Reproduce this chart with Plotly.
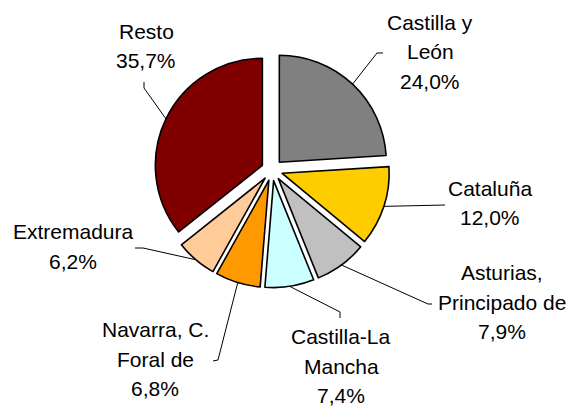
import math
import plotly.graph_objects as go

# ---- data ----
regions = ["Castilla y León", "Cataluña", "Asturias, Principado de",
           "Castilla-La Mancha", "Navarra, C. Foral de", "Extremadura", "Resto"]
label_lines = [["Castilla y", "León"], ["Cataluña"], ["Asturias,", "Principado de"],
               ["Castilla-La", "Mancha"], ["Navarra, C.", "Foral de"], ["Extremadura"], ["Resto"]]
shares = [24.0, 12.0, 7.9, 7.4, 6.8, 6.2, 35.7]
colors = ["#808080", "#FFCC00", "#C0C0C0", "#CCFFFF", "#FF9900", "#FFCC99", "#800000"]

# ---- layout (pixels) ----
W, H = 581, 407
CX, CY, R, PULL = 272, 170, 107, 0.1
FONT = dict(family="Liberation Sans, Arial, sans-serif", size=21, color="#000000")
LINE_GAP = 29.5
TEXT_DY = 0.0
# label centre x and first-line centre y
label_pos = [(430, 22.5), (490, 188), (502, 272.5), (341, 336.5),
             (155, 329.5), (73, 231.5), (146, 31)]
# leader line bend points from slice edge toward the label
leader_pts = [[(377, 53), (383, 53)], [(445, 205)], [(428, 304), (432, 304)],
              [(340, 312), (340, 318)], [(218, 360), (213, 361)],
              [(143, 248), (135, 248)], [(144, 88), (144, 82)]]

half = R * (1 + PULL)
dom_x = [(CX - half) / W, (CX + half) / W]
dom_y = [1 - (CY + half) / H, 1 - (CY - half) / H]

fig = go.Figure(go.Pie(
    labels=regions, values=shares, sort=False, direction="clockwise", rotation=0,
    marker=dict(colors=colors, line=dict(color="#000000", width=1.6)),
    pull=[PULL] * len(shares), textinfo="none", hoverinfo="label+percent",
    domain=dict(x=dom_x, y=dom_y), showlegend=False,
))

def px(x):
    return x / W

def py(y):
    return 1 - y / H

total = sum(shares)
cum = 0.0
annotations = []
shapes = []
for i, v in enumerate(shares):
    mid = (cum + v / 2) / total * 2 * math.pi
    cum += v
    ex = CX + R * (1 + PULL) * math.sin(mid)
    ey = CY - R * (1 + PULL) * math.cos(mid)
    pts = [(ex, ey)] + leader_pts[i]
    path = "M " + " L ".join(f"{px(x):.5f},{py(y):.5f}" for x, y in pts)
    shapes.append(dict(type="path", xref="paper", yref="paper", path=path,
                       line=dict(color="#000000", width=1)))
    lines = label_lines[i] + [f"{v:.1f}".replace(".", ",") + "%"]
    lx, ly = label_pos[i]
    for j, t in enumerate(lines):
        annotations.append(dict(text=t, x=px(lx), y=py(ly + j * LINE_GAP + TEXT_DY),
                                xref="paper", yref="paper", showarrow=False,
                                xanchor="center", yanchor="middle", font=FONT))

fig.update_layout(width=W, height=H, margin=dict(l=0, r=0, t=0, b=0),
                  paper_bgcolor="#ffffff", plot_bgcolor="#ffffff",
                  annotations=annotations, shapes=shapes)
fig.write_html("out.html")
